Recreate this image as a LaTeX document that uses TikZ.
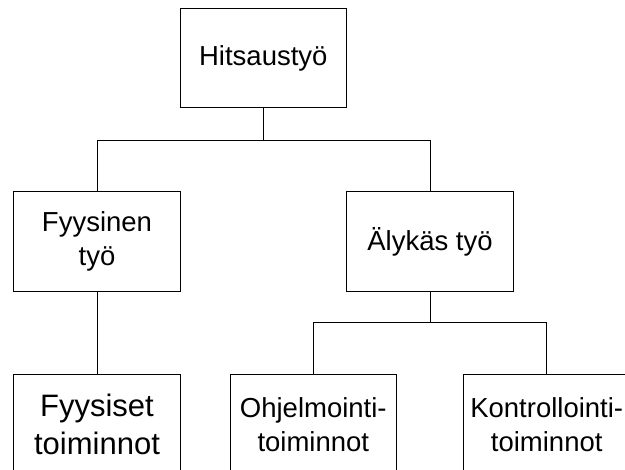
\documentclass[tikz,border=0pt]{standalone}
\usepackage{fontspec}
\setmainfont{Liberation Sans}
\begin{document}
\begin{tikzpicture}[x=1pt,y=-1pt,
  box/.style={draw=black, line width=0.8pt, rectangle, minimum width=166.7pt,
    minimum height=99.4pt, inner sep=0pt, align=center,
    font=\fontsize{27.5}{34}\selectfont},
  bigtext/.style={font=\fontsize{31}{37.5}\selectfont},
  link/.style={draw=black, line width=0.8pt}]
  \clip (0,0) rectangle (625,470);
  \fill[white] (0,0) rectangle (625,470);

  % boxes
  \node[box] (top)  at (263.3,58)    {Hitsaustyö};
  \node[box] (fyys) at (97,241.5)    {Fyysinen\\työ};
  \node[box] (aly)  at (430,241.5)   {Älykäs työ};
  \node[box,bigtext] (fyyt) at (97,424.4) {Fyysiset\\toiminnot};
  \node[box] (ohj)  at (313.3,424.4) {Ohjelmointi-\\toiminnot};
  \node[box] (kon)  at (546.7,424.4) {Kontrollointi-\\toiminnot};

  % junction points of the tree branches
  \coordinate (j1) at (263.3,140);
  \coordinate (j2) at (430,322.7);

  % connectors
  \draw[link] (top.south) -- (j1);
  \draw[link] (j1) -| (fyys.north);
  \draw[link] (j1) -| (aly.north);
  \draw[link] (fyys.south) -- (fyyt.north);
  \draw[link] (aly.south) -- (j2);
  \draw[link] (j2) -| (ohj.north);
  \draw[link] (j2) -| (kon.north);
\end{tikzpicture}
\end{document}
